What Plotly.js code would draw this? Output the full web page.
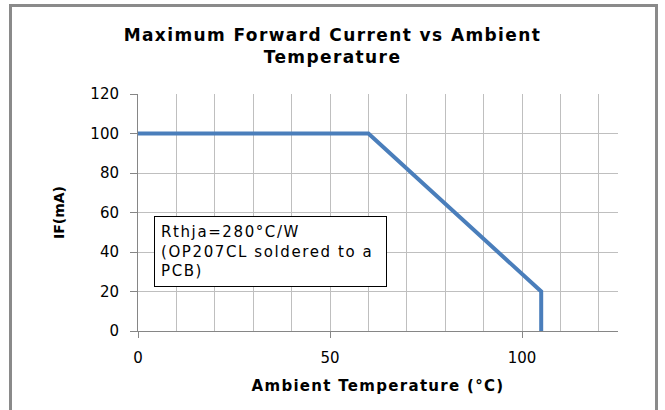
<!DOCTYPE html>
<html>
<head>
<meta charset="utf-8">
<script src="https://cdn.plot.ly/plotly-3.0.1.min.js"></script>
<style>
html,body{margin:0;padding:0;background:#fff;}
#wrap{position:relative;width:665px;height:410px;overflow:hidden;}
#chart{position:absolute;left:0;top:0;width:665px;height:410px;}
#frame{position:absolute;left:9px;top:4px;width:643px;height:420px;border:3px solid #8a8a8a;pointer-events:none;}
#chart .gtitle{letter-spacing:1.4px;}
#chart .xtitle{letter-spacing:1.3px;}
#chart .annotation-text{letter-spacing:1.6px;}
</style>
</head>
<body>
<div id="wrap"><div id="chart"></div><div id="frame"></div></div>
<script>
const temperature = [0, 60, 105, 105];
const current = [100, 100, 20, 0];
const xTickVals = [0, 50, 100];
const xTickText = ['0', '50', '100'];
const chartTitle = 'Maximum Forward Current vs Ambient<br>Temperature';
const xTitle = 'Ambient Temperature (°C)';
const yTitle = 'IF(mA)';
const noteText = 'Rthja=280°C/W<br>(OP207CL soldered to a<br>PCB)';

const F = 'DejaVu Sans, Verdana, sans-serif';

Plotly.newPlot('chart', [{
  x: temperature, y: current, type: 'scatter', mode: 'lines',
  line: {color: '#4a7ebb', width: 4}, hoverinfo: 'skip'
}], {
  width: 665, height: 410,
  margin: {l: 138, r: 47, t: 94, b: 79},
  paper_bgcolor: '#fff', plot_bgcolor: '#fff',
  showlegend: false,
  title: {text: chartTitle, x: 0.5, xanchor: 'center', y: 0.9, yanchor: 'top',
          font: {family: F, size: 17, color: '#000', weight: 'bold'}},
  xaxis: {
    range: [0, 125], tickvals: xTickVals, ticktext: xTickText,
    ticks: 'outside', ticklen: 6, tickcolor: '#868686', ticklabelstandoff: 7,
    showline: true, linecolor: '#868686', linewidth: 1,
    showgrid: true, gridcolor: '#bfbfbf', gridwidth: 1, zeroline: false,
    minor: {dtick: 10, tick0: 0, showgrid: true, gridcolor: '#bfbfbf', gridwidth: 1, ticks: ''},
    tickfont: {family: F, size: 15, color: '#000'},
    title: {text: xTitle, font: {family: F, size: 15, color: '#000', weight: 'bold'}, standoff: 14}
  },
  yaxis: {
    range: [0, 120], dtick: 20, tick0: 0,
    ticks: 'outside', ticklen: 7, tickcolor: '#868686', ticklabelstandoff: 8,
    showline: true, linecolor: '#868686', linewidth: 1,
    showgrid: true, gridcolor: '#bfbfbf', gridwidth: 1, zeroline: false,
    tickfont: {family: F, size: 15, color: '#000'},
    title: {text: yTitle, font: {family: F, size: 14, color: '#000', weight: 'bold'}, standoff: 22}
  },
  annotations: [{
    text: noteText, xref: 'x', yref: 'y', x: 4.2, y: 58.2,
    xanchor: 'left', yanchor: 'top', align: 'left', valign: 'top',
    showarrow: false, bgcolor: '#fff', bordercolor: '#000', borderwidth: 1, borderpad: 6,
    width: 219, height: 57,
    font: {family: F, size: 15, color: '#000'}
  }]
}, {displayModeBar: false, staticPlot: true});
</script>
</body>
</html>
